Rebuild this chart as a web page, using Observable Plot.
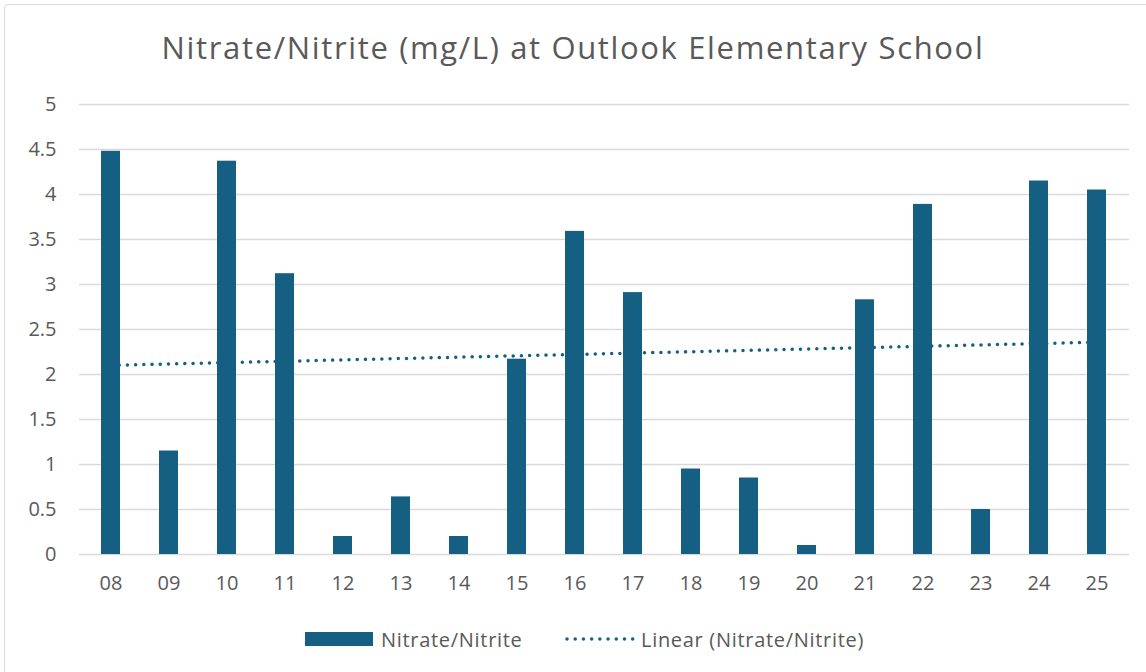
<!DOCTYPE html>
<html>
<head>
<meta charset="utf-8">
<script src="https://cdn.jsdelivr.net/npm/d3@7"></script>
<script src="https://cdn.jsdelivr.net/npm/@observablehq/plot@0.6"></script>
<style>
  html, body { margin: 0; padding: 0; background: #fff; }
  #wrap { position: relative; width: 1146px; height: 672px; overflow: hidden; font-family: "Open Sans", sans-serif; }
  #frame { position: absolute; left: 4px; top: 4px; width: 1160px; height: 690px; border: 1.5px solid #d9d9d9; border-radius: 4px; box-sizing: border-box; }
  #title { position: absolute; left: 0; width: 1146px; top: 26px; text-align: center; font-size: 31px; letter-spacing: 1.65px; color: #595959; line-height: 42px; white-space: nowrap; }
  #chart { position: absolute; left: 0; top: 80px; }
  #legend { position: absolute; top: 627px; left: 0; width: 1146px; height: 24px; font-size: 20px; letter-spacing: 0.7px; color: #595959; }
  .lg { position: absolute; top: 0; display: flex; align-items: center; height: 24px; white-space: nowrap; }
</style>
</head>
<body>
<div id="wrap">
  <div id="frame"></div>
  <div id="title">Nitrate/Nitrite (mg/L) at Outlook Elementary School</div>
  <div id="chart"></div>
  <div id="legend">
    <div class="lg" style="left:305px"><svg width="68" height="14" style="margin-right:8px"><rect x="0" y="0" width="68" height="14" fill="#156082"></rect></svg><span>Nitrate/Nitrite</span></div>
    <div class="lg" style="left:563px"><svg width="74" height="16" style="margin-right:4px"><line x1="4" x2="70" y1="8" y2="8" stroke="#156082" stroke-width="3.5" stroke-linecap="round" stroke-dasharray="0.01 8.2"></line></svg><span>Linear (Nitrate/Nitrite)</span></div>
  </div>
</div>
<script>
const years = ["08","09","10","11","12","13","14","15","16","17","18","19","20","21","22","23","24","25"];
const values = [4.48,1.15,4.37,3.12,0.2,0.64,0.2,2.17,3.59,2.91,0.95,0.85,0.1,2.83,3.89,0.5,4.15,4.05];
const yTicks = [0,0.5,1,1.5,2,2.5,3,3.5,4,4.5,5];

const data = years.map((y, i) => ({year: y, value: values[i], i}));
// least-squares linear trendline over category index
const mx = d3.mean(data, d => d.i), my = d3.mean(values);
const slope = d3.sum(data, d => (d.i - mx) * (d.value - my)) / d3.sum(data, d => (d.i - mx) ** 2);
const trend = data.map(d => ({year: d.year, fit: my + slope * (d.i - mx)}));

const chart = Plot.plot({
  width: 1146,
  height: 524,
  marginTop: 24,
  marginBottom: 50,
  marginLeft: 79,
  marginRight: 17,
  style: {fontFamily: '"Open Sans", sans-serif', fontSize: "20px", color: "#595959", background: "transparent"},
  x: {domain: years, paddingInner: 0.67, paddingOuter: 0.335, align: 0.5, label: null, tickSize: 0, tickPadding: 21},
  y: {domain: [0, 5], ticks: yTicks, tickFormat: d => String(d), label: null, tickSize: 0, tickPadding: 23},
  marks: [
    Plot.ruleY(yTicks, {stroke: "#d9d9d9", strokeWidth: 1.5, strokeOpacity: 1}),
    Plot.barY(data, {x: "year", y: "value", fill: "#156082"}),
    Plot.lineY(trend, {x: "year", y: "fit", stroke: "#156082", strokeWidth: 3.5, strokeLinecap: "round", strokeDasharray: "0.01 8.2"})
  ]
});
document.getElementById("chart").appendChild(chart);
</script>
</body>
</html>
